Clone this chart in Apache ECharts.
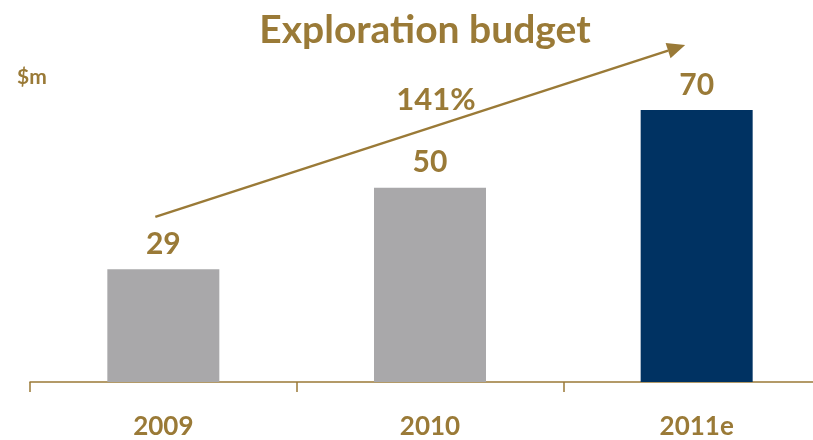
<!DOCTYPE html>
<html><head><meta charset="utf-8">
<script src="https://cdn.jsdelivr.net/npm/echarts@6/dist/echarts.min.js"></script>
<style>html,body{margin:0;padding:0;background:#fff;overflow:hidden}#c{width:830px;height:440px}</style>
</head><body><div id="c"></div>
<script>
const categories = ['2009', '2010', '2011e'];
const values = [29, 50, 70];
const barColors = ['#A9A8AA', '#A9A8AA', '#003262'];
const growthLabel = '141%';
const arrowStart = [-0.03, 42.5];
const arrowEnd = [1.957, 86.7];
const gold = '#9A7A37';
const font = 'Lato';

const chart = echarts.init(document.getElementById('c'));
chart.setOption({
  animation: false,
  title: { text: 'Exploration budget', left: 420, top: 6, textAlign: 'center',
    textStyle: { color: gold, fontSize: 39, fontWeight: 'bold', fontFamily: font } },
  grid: { left: 30, top: 110, right: 0, bottom: 58, containLabel: false },
  xAxis: { type: 'category', data: categories,
    axisLine: { lineStyle: { color: gold, width: 1.5 } },
    axisTick: { show: true, length: 10, lineStyle: { color: gold, width: 1.5 } },
    axisLabel: { color: gold, fontSize: 26, fontWeight: 'bold', fontFamily: font, margin: 32 } },
  yAxis: { type: 'value', min: 0, max: 70, show: false, splitLine: { show: false } },
  series: [{ type: 'bar', barWidth: 112, clip: false,
    data: values.map((v, i) => ({ value: v, itemStyle: { color: barColors[i] } })),
    label: { show: true, position: 'top', distance: 10, color: gold, fontSize: 30, fontWeight: 'bold', fontFamily: font } }]
});
function toPx(pt) {
  const a = chart.convertToPixel({ seriesIndex: 0 }, [0, pt[1]]);
  const b = chart.convertToPixel({ seriesIndex: 0 }, [1, pt[1]]);
  return [a[0] + (b[0] - a[0]) * pt[0], a[1]];
}
const p1 = toPx(arrowStart);
const p2 = toPx(arrowEnd);
const ang = Math.atan2(p2[1] - p1[1], p2[0] - p1[0]);
const hl = 18, hw = 8;
const base = [p2[0] - hl * Math.cos(ang), p2[1] - hl * Math.sin(ang)];
const nx = -Math.sin(ang), ny = Math.cos(ang);
chart.setOption({ graphic: [
  { type: 'text', left: 17, top: 67, style: { text: '$m', fill: gold, fontSize: 21, fontWeight: 'bold', fontFamily: font } },
  { type: 'line', shape: { x1: p1[0], y1: p1[1], x2: base[0], y2: base[1] }, style: { stroke: gold, lineWidth: 2.5 } },
  { type: 'polygon', shape: { points: [p2, [base[0] + nx * hw, base[1] + ny * hw], [base[0] - nx * hw, base[1] - ny * hw]] }, style: { fill: gold } },
  { type: 'text', x: 436, y: 100, style: { text: growthLabel, fill: gold, fontSize: 31, fontWeight: 'bold', fontFamily: font, align: 'center', verticalAlign: 'middle' } }
]});
</script></body></html>
